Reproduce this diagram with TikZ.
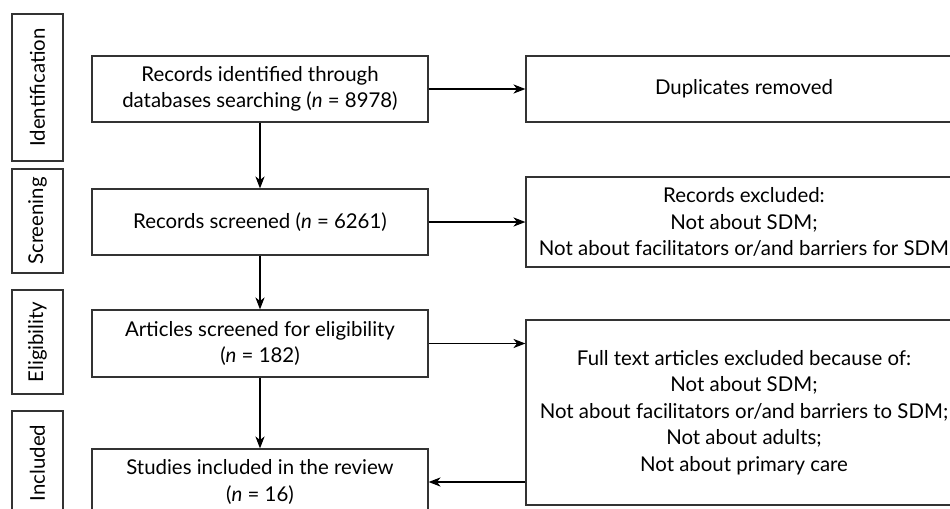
\documentclass[tikz,border=0pt]{standalone}
\usepackage{fontspec}
\setmainfont{Lato}
\usetikzlibrary{arrows.meta}

\begin{document}
\begin{tikzpicture}[x=0.5pt,y=-0.5pt,
  box/.style={draw=black!80,line width=0.6pt,align=center,inner sep=0pt,font=\fontsize{10.2}{13.25}\selectfont},
  stage/.style={box,rotate=90,minimum width=52pt,minimum height=25.5pt},
  arr/.style={-{Stealth[length=6pt,width=4.6pt,inset=1.8pt]},line width=0.6pt}]
  \useasboundingbox (0,0) rectangle (950,509);
  \clip (0,0) rectangle (950,509);
  % stages
  \node[stage,minimum width=73.5pt] (ident) at (37.5,87.5) {Identification};
  \node[stage] (screen) at (37.5,221) {Screening};
  \node[stage] (elig) at (37.5,342) {Eligibility};
  \node[stage] (incl) at (37.5,463) {Included};
  % main column
  \node[box,minimum width=168pt,minimum height=33pt] (rec) at (260,89) {Records identified through\\databases searching (\textit{n} = 8978)};
  \node[box,minimum width=168pt,minimum height=33pt] (scr) at (260,222) {Records screened (\textit{n} = 6261)};
  \node[box,minimum width=168pt,minimum height=33.5pt] (art) at (260,343.5) {Articles screened for eligibility\\(\textit{n} = 182)};
  \node[box,minimum width=168pt,minimum height=33pt] (stu) at (260,482) {Studies included in the review\\(\textit{n} = 16)};
  % exclusions
  \node[box,minimum width=218pt,minimum height=33pt] (dup) at (744,89) {Duplicates removed};
  \node[box,minimum width=218pt,minimum height=45pt] (exc) at (744,222) {Records excluded:\\Not about SDM;\\Not about facilitators or/and barriers for SDM};
  \node[box,minimum width=218pt,minimum height=92.5pt] (full) at (744,412.5) {Full text articles excluded because of:\\Not about SDM;\\Not about facilitators or/and barriers to SDM;\\Not about adults;\\Not about primary care};
  % arrows
  \draw[arr] (rec) -- (scr);
  \draw[arr] (scr) -- (art);
  \draw[arr] (art) -- (stu);
  \draw[arr] (rec) -- (dup);
  \draw[arr] (scr) -- (exc);
  \draw[arr] (art.east) -- (art.east -| full.west);
  \draw[arr] (full.west |- stu.east) -- (stu.east);
\end{tikzpicture}
\end{document}
